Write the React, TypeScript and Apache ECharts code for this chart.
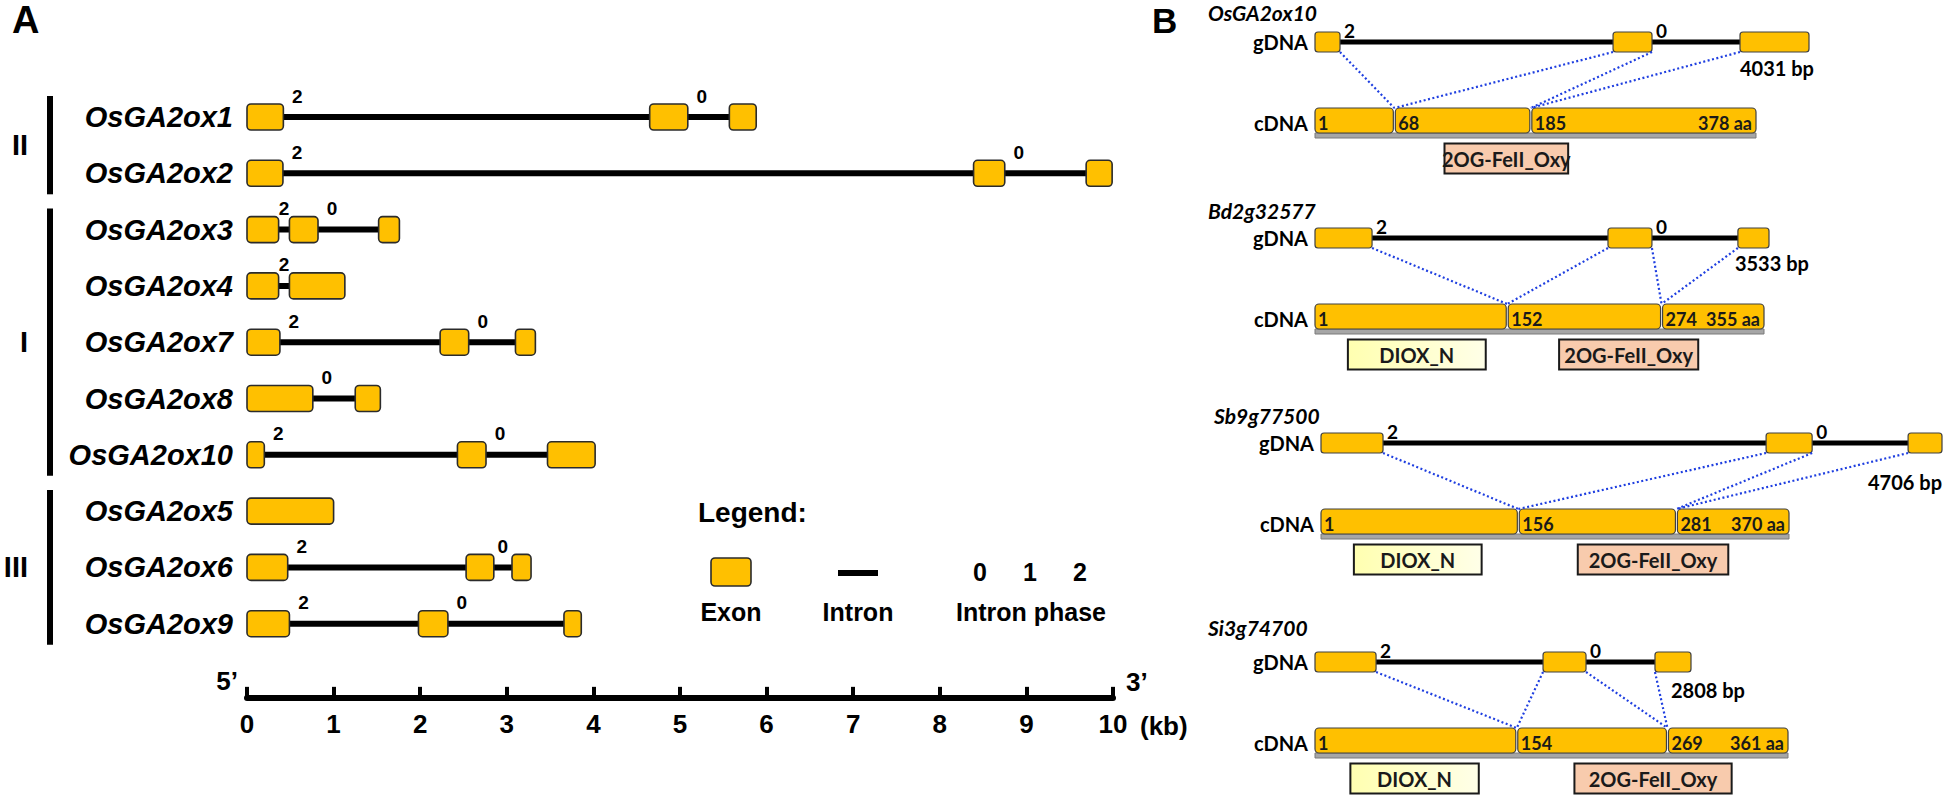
import React, { useEffect, useRef } from 'react';
import * as echarts from 'echarts';

// ---------- Panel A data (kb) ----------
const genesA = ['OsGA2ox1', 'OsGA2ox2', 'OsGA2ox3', 'OsGA2ox4', 'OsGA2ox7', 'OsGA2ox8', 'OsGA2ox10', 'OsGA2ox5', 'OsGA2ox6', 'OsGA2ox9'];
const exonStartsA = [[0, 4.65, 5.57], [0, 8.39, 9.69], [0, 0.49, 1.52], [0, 0.49], [0, 2.23, 3.10], [0, 1.25], [0, 2.43, 3.47], [0], [0, 2.53, 3.06], [0, 1.98, 3.66]];
const exonEndsA = [[0.42, 5.09, 5.88], [0.415, 8.75, 9.99], [0.365, 0.82, 1.76], [0.365, 1.13], [0.38, 2.56, 3.33], [0.76, 1.54], [0.20, 2.76, 4.02], [1.0], [0.47, 2.85, 3.28], [0.49, 2.32, 3.86]];
const phasesA = [[2, 0], [2, 0], [2, 0], [2], [2, 0], [0], [2, 0], [], [2, 0], [2, 0]];
const groupNames = ['II', 'I', 'III'];
const groupFirst = [0, 2, 7];
const groupLast = [1, 6, 9];
const legendPhases = ['0', '1', '2'];

// ---------- Panel B data ----------
const namesB = ['OsGA2ox10', 'Bd2g32577', 'Sb9g77500', 'Si3g74700'];
const gLenB = [4031, 3533, 4706, 2808];
const aaLenB = [378, 355, 370, 361];
const gExonStartB = [[0, 2432, 3468], [0, 2280, 3291], [0, 3373, 4449], [0, 1703, 2539]];
const gExonEndB = [[204, 2750, 4031], [444, 2622, 3533], [470, 3722, 4706], [456, 2024, 2808]];
const phasesB = [[2, 0], [2, 0], [2, 0], [2, 0]];
const cBoundB = [[68, 185], [152, 274], [156, 281], [154, 269]];
const dioxB = [null, [26, 135], [26, 127], [27, 125]];
const ogB = [[111, 217], [193, 303], [203, 322], [198, 318]];

// ---------- layout (pixels) ----------
const gLeftPx = [1315, 1315, 1321, 1315];
const gWidthPx = [494, 454, 621, 376];
const cWidthPx = [441, 449, 468, 473];
const gdnaYPx = [42, 238, 443, 662];
const titleDy = [-30, -28, -28, -35];
const bpLabelAlign = ['left', 'left', 'right', 'left'];
const bpLabelDx = [0, -3, 0, 16];
const bpLabelDy = [26, 25, 39, 28];

const FA = '"Liberation Sans", Arial, Helvetica, sans-serif';
const FB = 'Lato, "Open Sans", "Liberation Sans", sans-serif';
const GOLD = '#FFC000';

function txt(text: string, x: number, y: number, o: any = {}) {
  const align = o.align || 'center';
  const va = o.va || 'middle';
  return {
    type: 'text',
    style: {
      text, x, y,
      fill: o.fill || '#000',
      fontSize: o.size || 20,
      fontWeight: o.weight || 'bold',
      fontStyle: o.style || 'normal',
      fontFamily: o.family || FA,
      align, verticalAlign: va, textAlign: align, textVerticalAlign: va,
    },
  };
}

export default function App() {
  const ref = useRef<HTMLDivElement>(null);
  useEffect(() => {
    if (!ref.current) return;
    const chart = echarts.init(ref.current, undefined, { renderer: 'svg' });

    const grids: any[] = [{ left: 247, top: 88.85, width: 866, height: 563 }];
    const xAxes: any[] = [{
      type: 'value', gridIndex: 0, min: 0, max: 10, interval: 1, position: 'bottom', offset: 46,
      axisLine: { show: true, lineStyle: { color: '#000', width: 6 } },
      axisTick: { show: true, inside: true, length: 11, lineStyle: { color: '#000', width: 4 } },
      axisLabel: { show: true, margin: 13, fontSize: 26, fontWeight: 'bold', color: '#000', fontFamily: FA, showMinLabel: true, showMaxLabel: true },
      splitLine: { show: false },
    }];
    const yAxes: any[] = [{
      type: 'category', gridIndex: 0, data: genesA, inverse: true,
      axisLine: { show: false }, axisTick: { show: false }, splitLine: { show: false },
      axisLabel: { margin: 14, fontSize: 29, fontWeight: 'bold', fontStyle: 'italic', color: '#000', fontFamily: FA },
    }];

    namesB.forEach((_, g) => {
      grids.push({ left: gLeftPx[g], top: gdnaYPx[g] - 40, width: gWidthPx[g], height: 170 });
      xAxes.push({ type: 'value', gridIndex: g + 1, min: 0, max: gLenB[g], show: false, splitLine: { show: false } });
      xAxes.push({ type: 'value', gridIndex: g + 1, min: 0, max: aaLenB[g] * gWidthPx[g] / cWidthPx[g], show: false, splitLine: { show: false } });
      yAxes.push({ type: 'value', gridIndex: g + 1, min: 0, max: 170, inverse: true, show: false, splitLine: { show: false } });
    });

    const series: any[] = [];

    // Panel A gene structures
    series.push({
      type: 'custom', xAxisIndex: 0, yAxisIndex: 0, clip: false,
      data: genesA.map((_, i) => [0, i]),
      renderItem: (params: any, api: any) => {
        const i = api.value(1);
        const y = api.coord([0, i])[1];
        const px = (v: number) => api.coord([v, i])[0];
        const st = exonStartsA[i], en = exonEndsA[i];
        const children: any[] = [];
        if (st.length > 1) {
          const x0 = px(st[0]), x1 = px(en[en.length - 1]);
          children.push({ type: 'rect', shape: { x: x0, y: y - 3, width: x1 - x0, height: 6 }, style: { fill: '#000' } });
        }
        st.forEach((s, k) => {
          children.push({
            type: 'rect', shape: { x: px(s), y: y - 13, width: px(en[k]) - px(s), height: 26, r: 4 },
            style: { fill: GOLD, stroke: '#2b2b2b', lineWidth: 1.6 },
          });
        });
        phasesA[i].forEach((p, k) => {
          const e = px(en[k]);
          const n = px(st[k + 1]);
          const cx = e + Math.min(14, (n - e) / 2);
          children.push(txt(String(p), cx, y - 21, { size: 19 }));
        });
        return { type: 'group', children };
      },
    });

    // Panel A group brackets
    series.push({
      type: 'custom', xAxisIndex: 0, yAxisIndex: 0, clip: false,
      data: groupNames.map((_, j) => [0, groupFirst[j], groupLast[j]]),
      renderItem: (params: any, api: any) => {
        const j = params.dataIndex;
        const cs = params.coordSys;
        const y1 = api.coord([0, api.value(1)])[1] - 21;
        const y2 = api.coord([0, api.value(2)])[1] + 21;
        const bx = cs.x - 197;
        return {
          type: 'group',
          children: [
            { type: 'rect', shape: { x: bx - 3, y: y1, width: 6, height: y2 - y1 }, style: { fill: '#000' } },
            txt(groupNames[j], cs.x - 219, (y1 + y2) / 2, { size: 29, align: 'right' }),
          ],
        };
      },
    });

    const V_G = 40;
    const V_C = 118.5;
    namesB.forEach((name, g) => {
      const bpIdx = 1 + 2 * g;
      const aaIdx = 2 + 2 * g;
      // gDNA
      series.push({
        type: 'custom', xAxisIndex: bpIdx, yAxisIndex: g + 1, clip: false,
        data: [[0, V_G]],
        renderItem: (params: any, api: any) => {
          const cs = params.coordSys;
          const P = (bp: number) => api.coord([bp, V_G]);
          const yG = P(0)[1];
          const st = gExonStartB[g], en = gExonEndB[g];
          const xs = st.map((s) => P(s)[0]);
          const xe = en.map((e) => P(e)[0]);
          const last = st.length - 1;
          const children: any[] = [];
          children.push(txt(name, cs.x - 107, yG + titleDy[g], { size: 21, style: 'italic', family: FB, align: 'left' }));
          children.push(txt('gDNA', cs.x - 7, yG, { size: 20, family: FB, align: 'right' }));
          children.push({ type: 'rect', shape: { x: xs[0], y: yG - 2.5, width: xe[last] - xs[0], height: 5 }, style: { fill: '#000' } });
          xs.forEach((x, k) => {
            children.push({
              type: 'rect', shape: { x, y: yG - 10, width: xe[k] - x, height: 20, r: 3 },
              style: { fill: GOLD, stroke: '#404040', lineWidth: 1.2 },
            });
          });
          phasesB[g].forEach((p, k) => {
            children.push(txt(String(p), xe[k] + 4, yG - 12, { size: 19, family: FB, align: 'left' }));
          });
          const bx = bpLabelAlign[g] === 'left' ? xs[last] + bpLabelDx[g] : xe[last];
          children.push(txt(`${gLenB[g]} bp`, bx, yG + bpLabelDy[g], { size: 20, family: FB, align: bpLabelAlign[g] }));
          return { type: 'group', children };
        },
      });
      // cDNA
      series.push({
        type: 'custom', xAxisIndex: aaIdx, yAxisIndex: g + 1, clip: false,
        data: [[0, V_C]],
        renderItem: (params: any, api: any) => {
          const cs = params.coordSys;
          const P = (aa: number, v: number) => api.coord([aa, v]);
          const yC = P(0, V_C)[1];
          const yG = P(0, V_G)[1];
          const bpPx = (bp: number) => {
            try {
              const v: any = chart.convertToPixel({ xAxisIndex: bpIdx } as any, bp);
              if (typeof v === 'number' && isFinite(v)) return v;
            } catch (e) { /* fallback */ }
            return cs.x + (bp / gLenB[g]) * cs.width;
          };
          const bounds = [0, ...cBoundB[g], aaLenB[g]];
          const children: any[] = [];
          children.push(txt('cDNA', cs.x - 7, yC + 2, { size: 20, family: FB, align: 'right' }));
          const xa = P(0, V_C)[0];
          const xb = P(aaLenB[g], V_C)[0];
          children.push({ type: 'rect', shape: { x: xa, y: yC + 12.5, width: xb - xa, height: 5 }, style: { fill: '#A6A6A6', stroke: '#7a7a7a', lineWidth: 1 } });
          for (let k = 0; k < bounds.length - 1; k++) {
            const x0 = P(bounds[k], V_C)[0] + (k > 0 ? 1 : 0);
            const x1 = P(bounds[k + 1], V_C)[0] - (k < bounds.length - 2 ? 1 : 0);
            children.push({
              type: 'rect', shape: { x: x0, y: yC - 12.5, width: x1 - x0, height: 25, r: 4 },
              style: { fill: GOLD, stroke: '#404040', lineWidth: 1.2 },
            });
            children.push(txt(k === 0 ? '1' : String(bounds[k]), x0 + 3, yC + 2, { size: 18, family: FB, align: 'left', fill: '#1a1a1a' }));
          }
          children.push(txt(`${aaLenB[g]} aa`, xb - 4, yC + 2, { size: 18, family: FB, align: 'right', fill: '#1a1a1a' }));
          const yD = yC + 38;
          const dom = (r: number[] | null, label: string, fill: any) => {
            if (!r) return;
            const d0 = P(r[0], V_C)[0], d1 = P(r[1], V_C)[0];
            children.push({ type: 'rect', shape: { x: d0, y: yD - 15, width: d1 - d0, height: 30 }, style: { fill, stroke: '#1a1a1a', lineWidth: 2 } });
            children.push(txt(label, (d0 + d1) / 2, yD, { size: 20, family: FB, fill: '#1a1a1a' }));
          };
          dom(dioxB[g], 'DIOX_N', new echarts.graphic.LinearGradient(0, 0, 1, 0, [{ offset: 0, color: '#FFFFB0' }, { offset: 1, color: '#FFFFE8' }]));
          dom(ogB[g], '2OG-FeII_Oxy', '#F8CBAD');
          const st = gExonStartB[g], en = gExonEndB[g];
          cBoundB[g].forEach((b, k) => {
            const cx = P(b, V_C)[0];
            const ty = yC - 12.5;
            const lineStyle = { stroke: '#1f3fe0', lineWidth: 2.2, lineDash: [2, 2.5], fill: null };
            children.push({ type: 'line', shape: { x1: bpPx(en[k]), y1: yG + 10, x2: cx, y2: ty }, style: lineStyle });
            children.push({ type: 'line', shape: { x1: bpPx(st[k + 1]), y1: yG + 10, x2: cx, y2: ty }, style: lineStyle });
          });
          return { type: 'group', children };
        },
      });
    });

    const gText = (text: string, x: number, y: number, size: number, align = 'center') => ({
      type: 'text', x, y,
      style: { text, fill: '#000', fontSize: size, fontWeight: 'bold', fontFamily: FA, align, verticalAlign: 'middle', textAlign: align, textVerticalAlign: 'middle' },
    });

    const graphic: any[] = [
      gText('A', 12, 20, 38, 'left'),
      gText('B', 1152, 20, 35, 'left'),
      gText('Legend:', 698, 512, 28, 'left'),
      { type: 'rect', shape: { x: 711, y: 558, width: 40, height: 28, r: 4 }, style: { fill: GOLD, stroke: '#2b2b2b', lineWidth: 1.6 } },
      gText('Exon', 731, 612, 25),
      { type: 'rect', shape: { x: 838, y: 570, width: 40, height: 6 }, style: { fill: '#000' } },
      gText('Intron', 858, 612, 25),
      ...legendPhases.map((p, k) => gText(p, 980 + k * 50, 572, 25)),
      gText('Intron phase', 1031, 612, 25),
      gText('5\u2019', 238, 681, 26, 'right'),
      gText('3\u2019', 1126, 682, 26, 'left'),
      gText('(kb)', 1140, 726, 26, 'left'),
    ];

    chart.setOption({
      animation: false,
      backgroundColor: '#fff',
      grid: grids,
      xAxis: xAxes,
      yAxis: yAxes,
      series,
      graphic,
    });
    return () => chart.dispose();
  }, []);
  return <div ref={ref} style={{ position: 'absolute', left: 0, top: 0, width: 1946, height: 805 }} />;
}
